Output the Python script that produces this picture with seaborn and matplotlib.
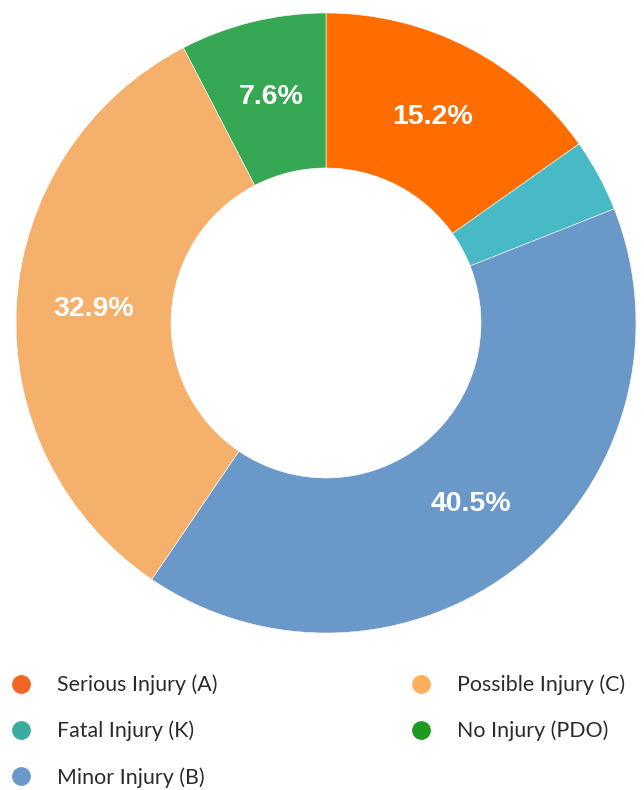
import matplotlib
matplotlib.use("Agg")
import matplotlib.pyplot as plt
from matplotlib.lines import Line2D
import seaborn as sns

categories = ["Serious Injury (A)", "Fatal Injury (K)", "Minor Injury (B)",
              "Possible Injury (C)", "No Injury (PDO)"]
shares = [15.2, 3.8, 40.5, 32.9, 7.6]
slice_colors = ["#ff6d00", "#47bac6", "#6a98c9", "#f5b06c", "#36a854"]
legend_colors = ["#f26522", "#3aab9c", "#6a98cc", "#ffae5a", "#1e9a1e"]

sns.set_style("white")
plt.rcParams['font.family'] = ['Lato', 'DejaVu Sans']

fig = plt.figure(figsize=(6.44, 7.90), dpi=100)
ax = fig.add_axes([16 / 644, 157 / 790, 620 / 644, 620 / 790])


def fmt(p):
    # small slices carry no label
    return f"{p:.1f}%" if p > 5 else ""


wedges, texts, autotexts = ax.pie(
    shares, colors=slice_colors, startangle=90, counterclock=False,
    radius=1, autopct=fmt, pctdistance=0.75,
    wedgeprops=dict(width=0.5, edgecolor="white", linewidth=0.4),
    textprops=dict(color="white", fontsize=20.5, fontweight="bold",
                   family="Liberation Sans"))
ax.set_xlim(-1, 1)
ax.set_ylim(-1, 1)
ax.set_aspect("equal")
ax.axis("off")

handles = [Line2D([], [], marker="o", linestyle="", markersize=12.5,
                  markerfacecolor=c, markeredgecolor=c) for c in legend_colors]
leg = fig.legend(handles, categories, loc="upper left",
                 bbox_to_anchor=(0.0, 1 - 666 / 790), ncol=2, frameon=False,
                 fontsize=15.4, labelspacing=1.2, handletextpad=1.08,
                 columnspacing=8.9, handlelength=1.2, borderaxespad=0)
for t in leg.get_texts():
    t.set_color("#2b2b2b")

fig.savefig("out.png", dpi=100)
